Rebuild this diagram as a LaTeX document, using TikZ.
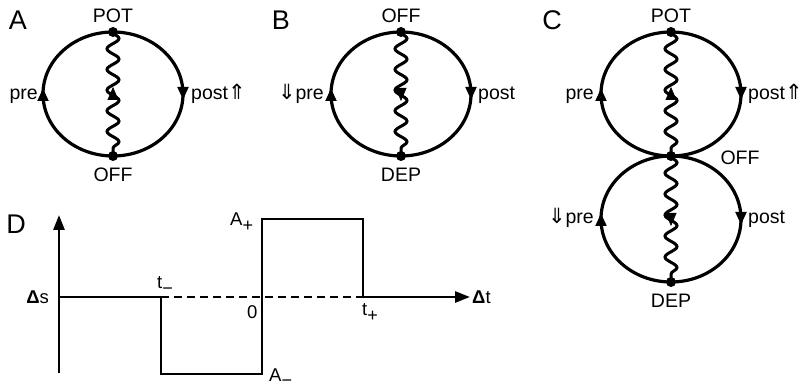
\documentclass[tikz,border=0pt]{standalone}
\usepackage{fontspec}
\setmainfont{Liberation Sans}
\newfontfamily\symfont{DejaVu Sans}
\usetikzlibrary{arrows.meta,decorations.pathmorphing,decorations.markings}
\newcommand\lbl{\fontsize{19.5}{22}\selectfont}
\newcommand\plbl{\fontsize{18.5}{21}\selectfont}
\newcommand\biglbl{\fontsize{27}{30}\selectfont}
\newcommand\subsc[1]{\raisebox{-5.5pt}{\fontsize{18}{18}\selectfont #1}}
\newcommand\uar{{\symfont\fontsize{21}{22}\selectfont\char"21D1}}
\newcommand\dar{{\symfont\fontsize{21}{22}\selectfont\char"21D3}}
\newcommand\deltachar{{\bfseries\char"0394}}
\begin{document}
\begin{tikzpicture}[x=1pt,y=-1pt,
  circ/.style={line width=3.2pt},
  midarrow/.style={postaction={decorate},decoration={markings,
     mark=at position 0.5 with {\arrow[xshift=6pt]{Triangle[length=13pt,width=10.5pt]}}}},
  wavy/.style={line width=3pt,decorate,decoration={snake,segment length=20.67pt,amplitude=6pt}},
  wavearrow/.style={postaction={decorate},decoration={markings,
     mark=at position 0.5 with {\arrow[xshift=7pt]{Triangle[length=13pt,width=11pt]}}}},
  dot/.style={fill=black},
  txt/.style={inner sep=0pt,font=\lbl},
  ptxt/.style={inner sep=0pt,font=\plbl},
  plotline/.style={line width=2.8pt},
  tip/.style={-{Triangle[length=15pt,width=11pt]}}
]
\useasboundingbox (0,0) rectangle (809,390);

% ---------- Panel A ----------
\node[txt,font=\biglbl,anchor=base] (labA) at (18,30) {A};
\coordinate (Atop) at (113,32);
\coordinate (Abot) at (113,156);
\draw[circ,midarrow] (Abot) arc[start angle=90,end angle=270,x radius=70,y radius=62];
\draw[circ,midarrow] (Atop) arc[start angle=-90,end angle=90,x radius=70,y radius=62];
\draw[wavy] (Atop) -- (Abot);
\path[wavearrow] (Abot) -- (Atop);
\fill[dot] (Atop) circle (5);
\fill[dot] (Abot) circle (5);
\node[txt,anchor=base] (Apot) at (113,23) {POT};
\node[txt,anchor=base] (Aoff) at (113,182) {OFF};
\node[txt,anchor=base east] (Apre) at (38,100) {pre};
\node[txt,anchor=base west] (Apost) at (191,100) {post\uar};

% ---------- Panel B ----------
\node[txt,font=\biglbl,anchor=base] (labB) at (281,30) {B};
\coordinate (Btop) at (401,32);
\coordinate (Bbot) at (401,156);
\draw[circ,midarrow] (Bbot) arc[start angle=90,end angle=270,x radius=70,y radius=62];
\draw[circ,midarrow] (Btop) arc[start angle=-90,end angle=90,x radius=70,y radius=62];
\draw[wavy] (Btop) -- (Bbot);
\path[wavearrow] (Btop) -- (Bbot);
\fill[dot] (Btop) circle (5);
\fill[dot] (Bbot) circle (5);
\node[txt,anchor=base] (Boff) at (401,23) {OFF};
\node[txt,anchor=base] (Bdep) at (401,182) {DEP};
\node[txt,anchor=base east] (Bpre) at (324,100) {\dar pre};
\node[txt,anchor=base west] (Bpost) at (478,100) {post};

% ---------- Panel C ----------
\node[txt,font=\biglbl,anchor=base] (labC) at (552,30) {C};
\coordinate (Ctop) at (671,32);
\coordinate (Cmid) at (671,156);
\coordinate (Cbot) at (671,282);
\draw[circ,midarrow] (Cmid) arc[start angle=90,end angle=270,x radius=70,y radius=62];
\draw[circ,midarrow] (Ctop) arc[start angle=-90,end angle=90,x radius=70,y radius=62];
\draw[circ,midarrow] (Cbot) arc[start angle=90,end angle=270,x radius=70,y radius=63];
\draw[circ,midarrow] (Cmid) arc[start angle=-90,end angle=90,x radius=70,y radius=63];
\draw[wavy] (Ctop) -- (Cmid);
\draw[wavy,decoration={segment length=21pt}] (Cmid) -- (Cbot);
\path[wavearrow] (Cmid) -- (Ctop);
\path[wavearrow] (Cmid) -- (Cbot);
\fill[dot] (Ctop) circle (5);
\fill[dot] (Cmid) circle (5);
\fill[dot] (Cbot) circle (5);
\node[txt,anchor=base] (Cpot) at (671,23) {POT};
\node[txt,anchor=base] (Coff) at (740,165) {OFF};
\node[txt,anchor=base] (Cdep) at (671,307) {DEP};
\node[txt,anchor=base east] (Cpre) at (594,100) {pre};
\node[txt,anchor=base west] (Cpost) at (748,100) {post\uar};
\node[txt,anchor=base east] (Cpre2) at (594,224) {\dar pre};
\node[txt,anchor=base west] (Cpost2) at (748,224) {post};

% ---------- Panel D ----------
\node[txt,font=\biglbl,anchor=base] (labD) at (16,234) {D};
\coordinate (Ybot) at (59,373);
\coordinate (Ytop) at (59,215);
\coordinate (Org) at (59,297);
\coordinate (Tm) at (161,297);
\coordinate (TmB) at (161,374);
\coordinate (Zb) at (262,374);
\coordinate (Zt) at (262,219);
\coordinate (TpT) at (363,219);
\coordinate (Tp) at (363,297);
\coordinate (Xend) at (470,297);
\draw[plotline,tip] (Ybot) -- (Ytop);
\draw[plotline] (Org) -- (Tm) -- (TmB) -- (Zb) -- (Zt) -- (TpT) -- (Tp);
\draw[plotline,tip] (Tp) -- (Xend);
\draw[plotline,dash pattern=on 8pt off 5pt] (Tm) -- (Tp);
\node[ptxt,anchor=base east] (ds) at (49,304) {\deltachar s};
\node[ptxt,anchor=base west] (tmL) at (157,289) {t\subsc{\char"2212}};
\node[ptxt,anchor=base west] (zero) at (247,318) {0};
\node[ptxt,anchor=base west] (apL) at (230,226) {A\subsc{+}};
\node[ptxt,anchor=base west] (amL) at (269,381) {A\subsc{\char"2212}};
\node[ptxt,anchor=base west] (tpL) at (362,316) {t\subsc{+}};
\node[ptxt,anchor=base west] (dt) at (472,304) {\deltachar t};
\end{tikzpicture}
\end{document}
